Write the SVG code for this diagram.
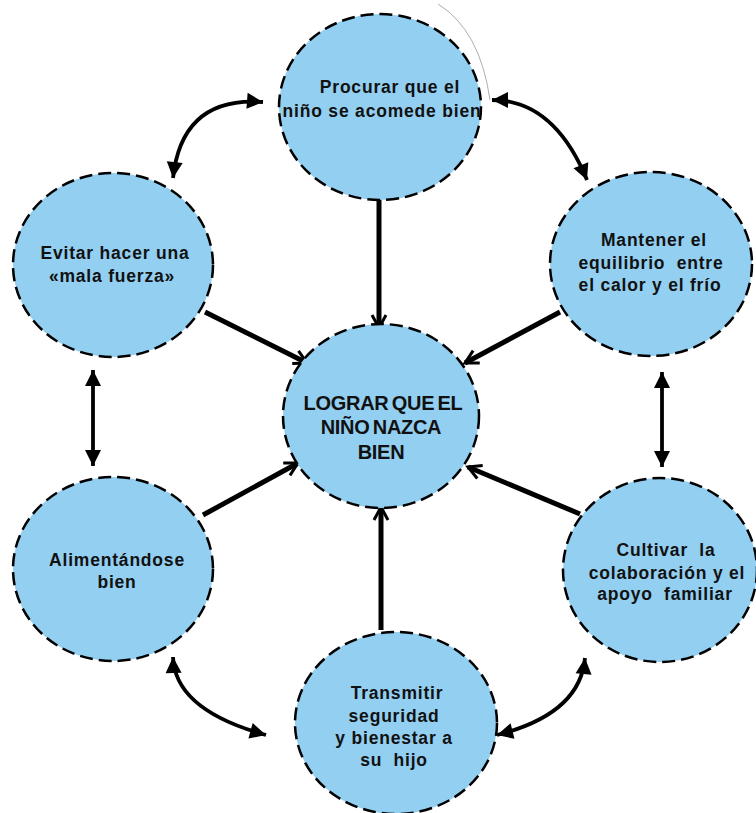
<svg xmlns="http://www.w3.org/2000/svg" width="756" height="813" viewBox="0 0 756 813">
<style>
.node ellipse{fill:#93CFF1;stroke:#000;stroke-width:2.5;stroke-dasharray:13 6}
.node text{font-family:"Liberation Sans",Arial,sans-serif;font-weight:bold;font-size:17.5px;letter-spacing:0.8px;fill:#111;text-anchor:middle;white-space:pre}
.node text.big{font-size:20px;letter-spacing:-0.3px;word-spacing:-2px}
.straight{stroke:#000;stroke-width:5;fill:none;marker-end:url(#open)}
.dbl{stroke:#000;stroke-width:3.8;fill:none;marker-start:url(#tri);marker-end:url(#tri)}
</style>
<defs>
<marker id="open" markerUnits="userSpaceOnUse" markerWidth="22" markerHeight="22" viewBox="0 0 22 22" refX="19" refY="11" orient="auto">
<path d="M6,4 L19,11 L6,18" fill="none" stroke="#000" stroke-width="3"/>
</marker>
<marker id="tri" markerUnits="userSpaceOnUse" markerWidth="20" markerHeight="20" viewBox="0 0 20 20" refX="17" refY="10" orient="auto-start-reverse">
<path d="M1,2 L17,10 L1,18 Z" fill="#000"/>
</marker>
</defs>
<rect width="756" height="813" fill="#fff"/>
<path d="M438,4 Q480,30 490,100" fill="none" stroke="#999" stroke-width="0.8"/>
<g id="connectors">
<path class="straight" d="M379,200 L379,328"/>
<path class="straight" d="M205,312 L307,363"/>
<path class="straight" d="M560,312 L465,363"/>
<path class="straight" d="M203,515 L298,463"/>
<path class="straight" d="M580,514 L468,467"/>
<path class="straight" d="M381,630 L381,507"/>
<path class="dbl" d="M263,102 Q182,96 173,178"/>
<path class="dbl" d="M492,100 Q554,100 587,180"/>
<path class="dbl" d="M93,370 L93,466"/>
<path class="dbl" d="M662,372 L662,467"/>
<path class="dbl" d="M173,657 Q175,710 266,735"/>
<path class="dbl" d="M585,658 Q580,714 497,735"/>
</g>
<g id="n-top" class="node">
<ellipse cx="380" cy="107" rx="101" ry="93"/>
<text x="390" y="93">Procurar que el</text>
<text x="382" y="117">niño se acomede bien</text>
</g>
<g id="n-center" class="node">
<ellipse cx="381" cy="416" rx="98" ry="92"/>
<text class="big" x="383" y="410">LOGRAR QUE EL</text>
<text class="big" x="381" y="434">NIÑO NAZCA</text>
<text class="big" x="381" y="459">BIEN</text>
</g>
<g id="n-evitar" class="node">
<ellipse cx="113" cy="265" rx="100" ry="92"/>
<text x="115" y="259">Evitar hacer una</text>
<text x="112" y="282">«mala fuerza»</text>
</g>
<g id="n-mantener" class="node">
<ellipse cx="651" cy="264" rx="101" ry="92"/>
<text x="654" y="246">Mantener el</text>
<text x="651" y="269">equilibrio  entre</text>
<text x="650" y="291">el calor y el frío</text>
</g>
<g id="n-alimentandose" class="node">
<ellipse cx="113" cy="569" rx="100" ry="92"/>
<text x="117" y="566">Alimentándose</text>
<text x="117" y="588">bien</text>
</g>
<g id="n-cultivar" class="node">
<ellipse cx="660" cy="570" rx="97" ry="92"/>
<text x="666" y="556">Cultivar  la</text>
<text x="667" y="579">colaboración y el</text>
<text x="665" y="600">apoyo  familiar</text>
</g>
<g id="n-transmitir" class="node">
<ellipse cx="396" cy="723" rx="101" ry="91"/>
<text x="397" y="699">Transmitir</text>
<text x="394" y="722">seguridad</text>
<text x="394" y="744">y bienestar a</text>
<text x="394" y="766">su  hijo</text>
</g>
</svg>
